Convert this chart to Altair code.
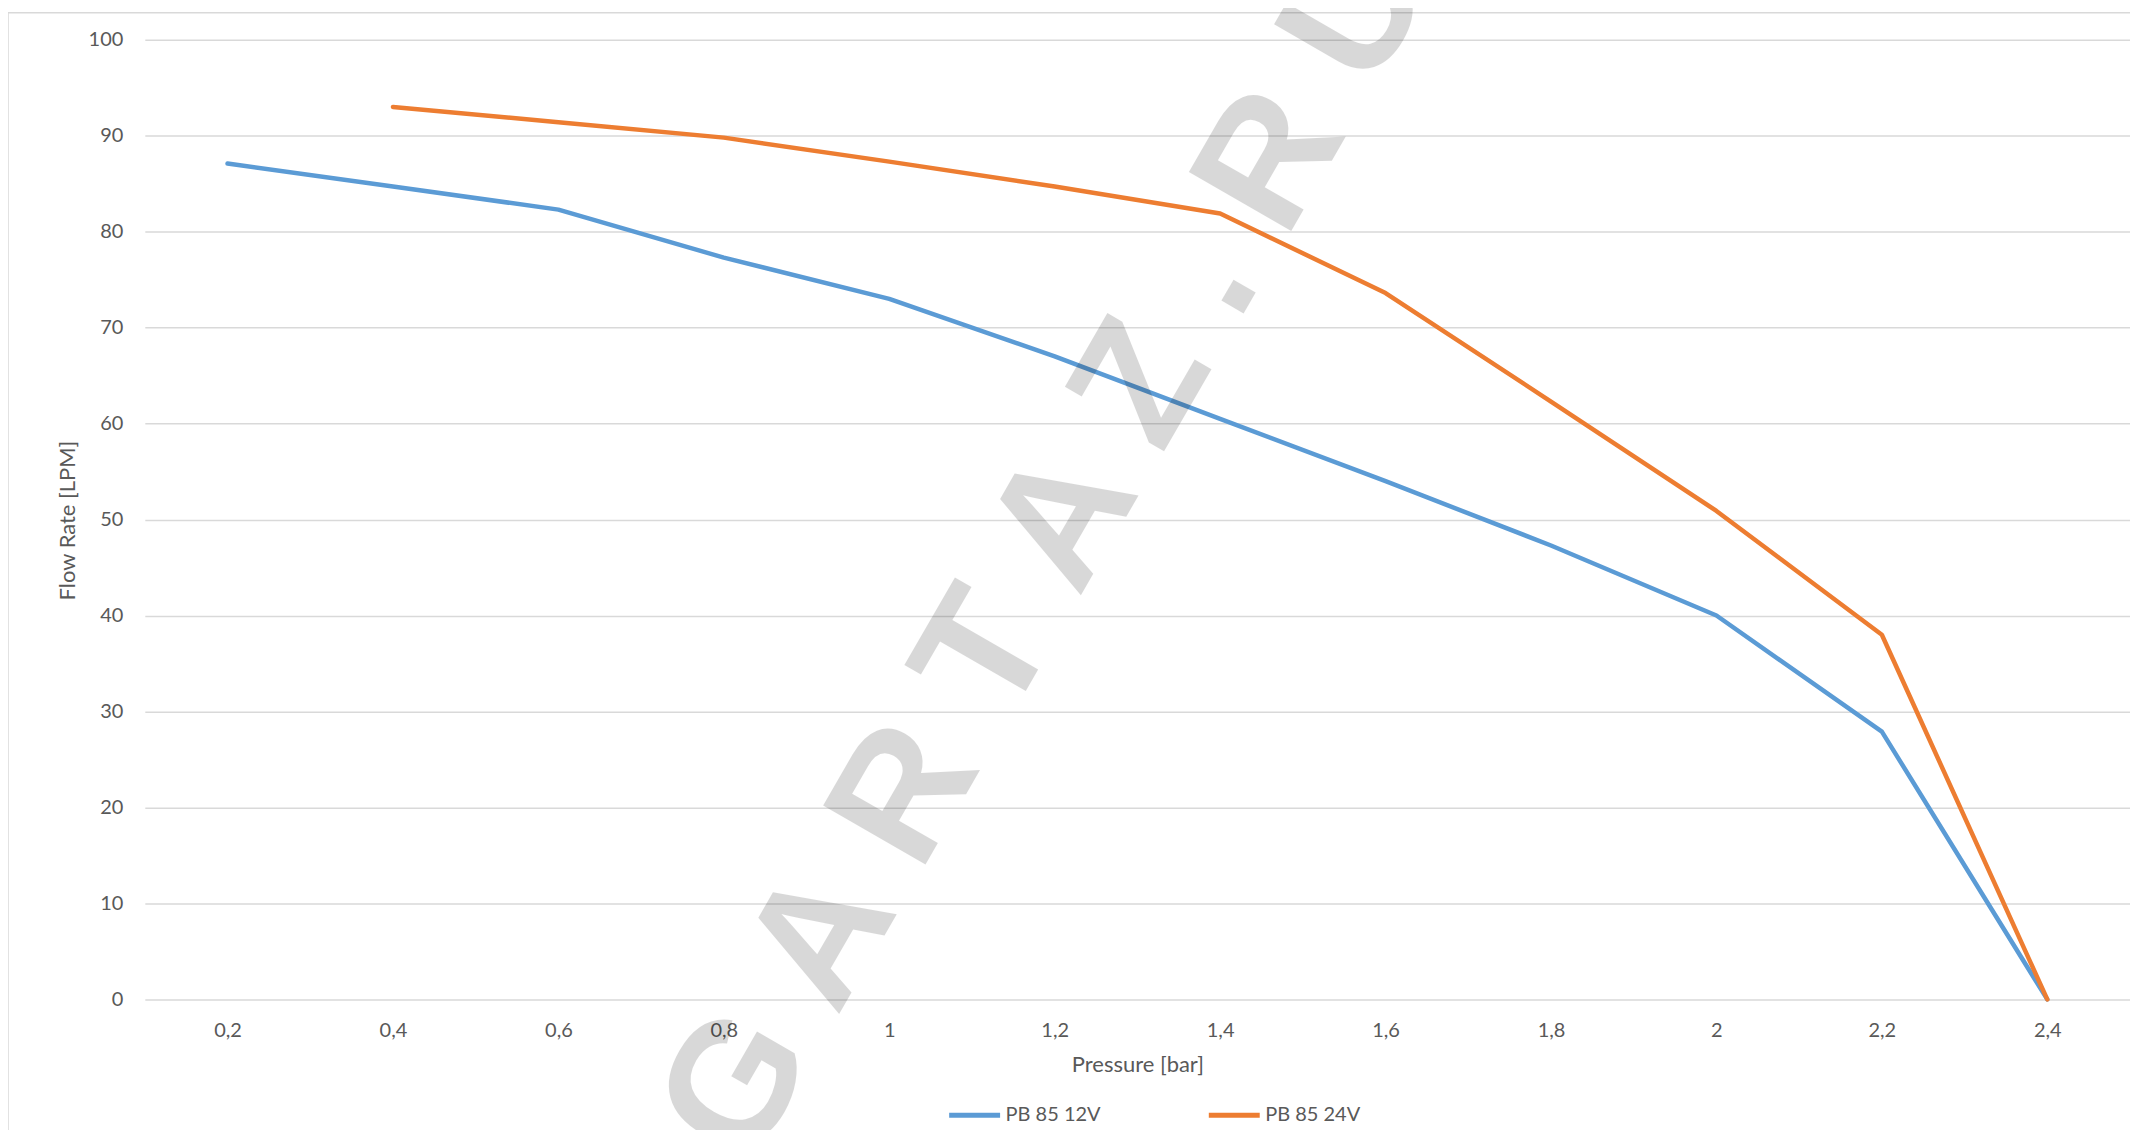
import altair as alt
import pandas as pd

# ---- data ----
pressures = ["0,2", "0,4", "0,6", "0,8", "1", "1,2", "1,4", "1,6", "1,8", "2", "2,2", "2,4"]
series_names = ["PB 85 12V", "PB 85 24V"]
flow_12v = [87.1, 84.7, 82.3, 77.3, 73.0, 67.0, 60.5, 54.0, 47.3, 40.0, 27.9, 0.0]
flow_24v = [None, 93.0, 91.4, 89.8, 87.3, 84.7, 81.9, 73.6, 62.3, 50.9, 38.0, 0.0]
series_colors = ["#5B9BD5", "#ED7D31"]
y_ticks = [0, 10, 20, 30, 40, 50, 60, 70, 80, 90, 100]
watermark_text = "G A R T A Z . R U"

rows = []
for name, vals in zip(series_names, [flow_12v, flow_24v]):
    for p, v in zip(pressures, vals):
        if v is not None:
            rows.append({"pressure": p, "flow": v, "series": name})
df = pd.DataFrame(rows)

W, H = 1988, 961

lines = alt.Chart(df).mark_line(
    strokeWidth=4.5, strokeCap="round", strokeJoin="round"
).encode(
    x=alt.X(
        "pressure:O",
        sort=pressures,
        scale=alt.Scale(type="point", padding=0.5, domain=pressures),
        axis=alt.Axis(
            title="Pressure [bar]", labelAngle=0, ticks=False, domain=False,
            grid=False, labelPadding=21, titleX=994, titleY=65,
            titleAlign="center", titleBaseline="middle",
        ),
    ),
    y=alt.Y(
        "flow:Q",
        scale=alt.Scale(domain=[0, 100], nice=False),
        axis=alt.Axis(
            title="Flow Rate [LPM]", values=y_ticks, ticks=False, domain=False,
            grid=True, gridColor="#d9d9d9", gridWidth=1.5, labelPadding=22,
            titleX=-77, titleY=481, titleAngle=270, titleAlign="center",
            titleBaseline="middle",
        ),
    ),
    color=alt.Color(
        "series:N",
        scale=alt.Scale(domain=series_names, range=series_colors),
        legend=alt.Legend(
            title=None, orient="none", direction="horizontal",
            legendX=803, legendY=1049, symbolType="stroke", symbolSize=2601,
            symbolStrokeWidth=5, labelFontSize=20, columnPadding=97,
            labelOffset=3, padding=0,
        ),
    ),
)

marker = pd.DataFrame({"t": [watermark_text]})

watermark = alt.Chart(marker).mark_text(
    angle=300, fontSize=172, font="Liberation Sans", fontWeight="bold",
    color="black", opacity=0.15, align="center", baseline="middle",
).encode(x=alt.value(903), y=alt.value(512), text="t:N")

border_left = alt.Chart(marker).mark_rule(color="#d9d9d9", strokeWidth=1.5).encode(
    x=alt.value(-137), y=alt.value(-27), y2=alt.value(1100)
)
border_top = alt.Chart(marker).mark_rule(color="#d9d9d9", strokeWidth=1.5).encode(
    x=alt.value(-137), x2=alt.value(2000), y=alt.value(-27)
)

chart = alt.layer(border_left, border_top, lines, watermark).properties(
    width=W, height=H,
    padding={"left": 137, "top": 31, "right": 0, "bottom": 130},
    autosize=alt.AutoSizeParams(type="none"),
).configure_view(stroke=None).configure_axis(
    labelFont="Lato", titleFont="Lato", labelColor="#595959", titleColor="#595959",
    labelFontSize=20, titleFontSize=22, titleFontWeight="normal",
).configure_legend(labelFont="Lato", labelColor="#595959")

chart.save("out.html", embed_options={"renderer": "svg", "actions": False})
